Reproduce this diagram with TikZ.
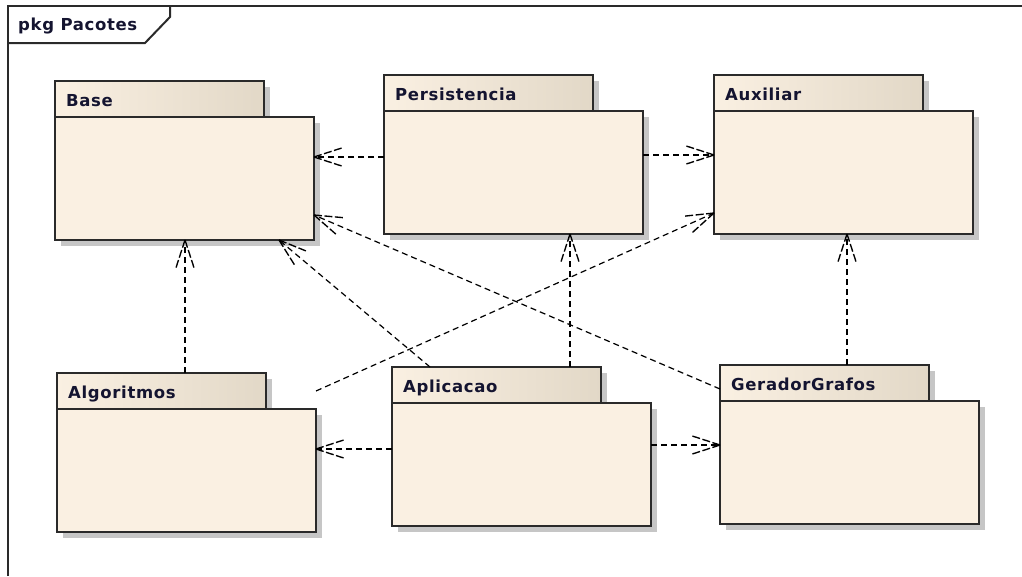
\documentclass[tikz,border=0pt]{standalone}
\usepackage{fontspec}
\setmainfont{DejaVu Sans}
\newfontfamily\pkgfont[LetterSpace=4]{DejaVu Sans Bold}
\usetikzlibrary{calc}

\definecolor{pkgfill}{HTML}{FAF0E2}
\definecolor{tabdark}{HTML}{E2D8C7}
\definecolor{edge}{HTML}{2A2A2A}
\definecolor{shadowgray}{HTML}{C6C6C6}
\definecolor{labelink}{HTML}{141430}

\tikzset{
  pkgbody/.style={draw=edge, line width=1.8pt, fill=pkgfill,
    minimum width=259pt, minimum height=123pt, inner sep=0pt, outer sep=0pt,
    anchor=north west},
  pkgtab/.style={draw=edge, line width=1.8pt, left color=pkgfill,
    right color=tabdark, minimum width=209pt, minimum height=36pt,
    inner sep=0pt, outer sep=0pt, anchor=north west},
  pkglabel/.style={anchor=base west, inner sep=0pt, text=labelink,
    font=\pkgfont\fontsize{16.5pt}{19pt}\selectfont},
  depline/.style={draw=black, line width=1.2pt, dash pattern=on 6pt off 4pt},
  deparm/.style={draw=black, line width=1.35pt, dash pattern=on 8pt off 2.5pt},
  framepen/.style={draw=edge, line width=2pt}
}

% package: name, left x, top y, title
\newcommand\package[4]{%
  \fill[shadowgray] (#2+6,#3+6) rectangle ++(209,36);
  \fill[shadowgray] (#2+6,#3+42) rectangle ++(259,123);
  \node[pkgtab] (#1Tab) at (#2,#3) {};
  \node[pkgbody] (#1) at (#2,#3+36) {};
  \node[pkglabel] (#1Label) at ([xshift=11pt,yshift=-25pt]#1Tab.north west) {#4};
}

% dependency: dashed line with an open dashed arrow head at the target
\newcommand\dep[2]{%
  \draw[depline] (#1) -- (#2);
  \draw[deparm] (#2) -- ($(#2)!31pt!18:(#1)$);
  \draw[deparm] (#2) -- ($(#2)!31pt!-18:(#1)$);
}

\begin{document}
\begin{tikzpicture}[x=1pt, y=-1pt]
  \useasboundingbox (0,0) rectangle (1022,576);

  % diagram frame
  \draw[framepen] (8,576) -- (8,6) -- (1022,6);
  \draw[framepen] (8,43) -- (145,43) -- (170,17) -- (170,6);
  \node[pkglabel] (frameLabel) at (18,30) {pkg Pacotes};

  % packages
  \package{base}{55}{81}{Base}
  \package{pers}{384}{75}{Persistencia}
  \package{aux}{714}{75}{Auxiliar}
  \package{algo}{57}{373}{Algoritmos}
  \package{aplic}{392}{367}{Aplicacao}
  \package{ger}{720}{365}{GeradorGrafos}

  % connector end points on the packages
  \coordinate (persW)  at ([yshift=15.5pt]pers.west);
  \coordinate (baseE1) at ([yshift=21.5pt]base.east);
  \coordinate (persE)  at ([yshift=17.5pt]pers.east);
  \coordinate (auxW1)  at ([yshift=17.5pt]aux.west);
  \coordinate (baseS1) at ([xshift=0.5pt]base.south);
  \coordinate (algoN)  at (algoTab.north -| baseS1);
  \coordinate (aplicN1) at ([xshift=-66.5pt]aplicTab.north);
  \coordinate (baseS2) at ([xshift=94.5pt]base.south);
  \coordinate (persS)  at ([xshift=56.5pt]pers.south);
  \coordinate (aplicN2) at (aplicTab.north -| persS);
  \coordinate (aplicW) at ([yshift=15.5pt]aplic.west);
  \coordinate (algoE)  at ([yshift=21.5pt]algo.east);
  \coordinate (aplicE) at ([yshift=19.5pt]aplic.east);
  \coordinate (gerW)   at ([yshift=17.5pt]ger.west);
  \coordinate (auxS)   at ([xshift=3.5pt]aux.south);
  \coordinate (gerN)   at (gerTab.north -| auxS);
  \coordinate (gerTW)  at ([yshift=-6pt]gerTab.west);
  \coordinate (baseE2) at ([yshift=-36.5pt]base.east);
  \coordinate (algoNE) at (algo.east |- algoTab.east);
  \coordinate (auxW2)  at ([yshift=-40.5pt]aux.west);

  % dependencies
  \dep{persW}{baseE1}
  \dep{persE}{auxW1}
  \dep{algoN}{baseS1}
  \dep{aplicN1}{baseS2}
  \dep{aplicN2}{persS}
  \dep{aplicW}{algoE}
  \dep{aplicE}{gerW}
  \dep{gerN}{auxS}
  \dep{gerTW}{baseE2}
  \dep{algoNE}{auxW2}
\end{tikzpicture}
\end{document}
